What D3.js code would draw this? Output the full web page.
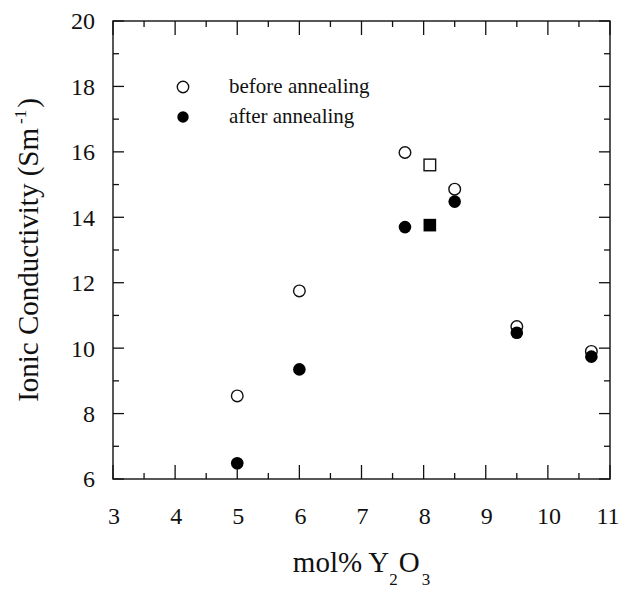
<!DOCTYPE html>
<html>
<head>
<meta charset="utf-8">
<script src="https://cdn.jsdelivr.net/npm/d3@7"></script>
<style>
  body { margin: 0; background: #fff; }
  svg { display: block; font-family: "Liberation Serif", "DejaVu Serif", serif; }
</style>
</head>
<body>
<div id="chart"></div>
<script>
// mol% Y2O3 for each sample
const molPct = [5, 6, 7.7, 8.5, 9.5, 10.7];
// ionic conductivity (S/m), before and after annealing
const beforeAnneal = [8.54, 11.75, 15.98, 14.86, 10.66, 9.9];
const afterAnneal = [6.48, 9.35, 13.7, 14.48, 10.47, 9.74];
// separate sample drawn as squares
const squareX = [8.1];
const squareBefore = [15.6];
const squareAfter = [13.76];

const xTicks = [3, 4, 5, 6, 7, 8, 9, 10, 11];
const yTicks = [6, 8, 10, 12, 14, 16, 18, 20];
const legendLabels = ['before annealing', 'after annealing'];

const config = {
  width: 621,
  height: 591,
  margin: {top: 21, right: 11, bottom: 112, left: 113},
  r: 6.3
};

const innerW = config.width - config.margin.left - config.margin.right;
const innerH = config.height - config.margin.top - config.margin.bottom;

const svg = d3.select('#chart').append('svg')
    .attr('width', config.width)
    .attr('height', config.height);

const chart = svg.append('g')
    .attr('transform', `translate(${config.margin.left},${config.margin.top})`);

const x = d3.scaleLinear().domain([3, 11]).range([0, innerW]);
const y = d3.scaleLinear().domain([6, 20]).range([innerH, 0]);

// frame
chart.append('rect')
    .attr('width', innerW)
    .attr('height', innerH)
    .attr('fill', 'none')
    .attr('stroke', '#111')
    .attr('stroke-width', 1.4);

// inward ticks on all four sides
const xMinor = d3.range(3.5, 11, 1);
const yMinor = d3.range(7, 20, 2);

const tickStyle = sel => sel.attr('stroke', '#111').attr('stroke-width', 1.3);

const addXTicks = (vals, len) => {
  chart.append('g').selectAll('line').data(vals).join('line')
      .attr('x1', d => x(d)).attr('x2', d => x(d))
      .attr('y1', innerH).attr('y2', innerH - len)
      .call(tickStyle);
  chart.append('g').selectAll('line').data(vals).join('line')
      .attr('x1', d => x(d)).attr('x2', d => x(d))
      .attr('y1', 0).attr('y2', len)
      .call(tickStyle);
};
const addYTicks = (vals, len) => {
  chart.append('g').selectAll('line').data(vals).join('line')
      .attr('y1', d => y(d)).attr('y2', d => y(d))
      .attr('x1', 0).attr('x2', len)
      .call(tickStyle);
  chart.append('g').selectAll('line').data(vals).join('line')
      .attr('y1', d => y(d)).attr('y2', d => y(d))
      .attr('x1', innerW).attr('x2', innerW - len)
      .call(tickStyle);
};
addXTicks(xTicks, 14);
addXTicks(xMinor, 6);
addYTicks(yTicks, 11);
addYTicks(yMinor, 6);

// tick labels (last one nudged in so it stays on the page)
chart.append('g').selectAll('text').data(xTicks).join('text')
    .attr('x', d => Math.min(x(d) + 1, innerW - 2))
    .attr('y', innerH + 45)
    .attr('text-anchor', 'middle')
    .attr('font-size', 24)
    .attr('fill', '#111')
    .text(d => d);

chart.append('g').selectAll('text').data(yTicks).join('text')
    .attr('x', -18)
    .attr('y', d => y(d))
    .attr('dy', '0.35em')
    .attr('text-anchor', 'end')
    .attr('font-size', 24)
    .attr('fill', '#111')
    .text(d => d);

// axis titles
const xTitle = svg.append('text')
    .attr('x', config.margin.left + innerW / 2)
    .attr('y', 572)
    .attr('text-anchor', 'middle')
    .attr('font-size', 29)
    .attr('fill', '#111');
xTitle.append('tspan').text('mol% Y');
xTitle.append('tspan').attr('font-size', 17).attr('dy', 13).attr('dx', 0).text('2');
xTitle.append('tspan').attr('dy', -13).attr('dx', 1).text('O');
xTitle.append('tspan').attr('font-size', 17).attr('dy', 13).attr('dx', 2).text('3');

const yTitle = svg.append('text')
    .attr('transform', 'translate(38,250) rotate(-90)')
    .attr('text-anchor', 'middle')
    .attr('font-size', 29)
    .attr('fill', '#111');
yTitle.append('tspan').text('Ionic Conductivity (Sm');
yTitle.append('tspan').attr('font-size', 17).attr('dy', -12).attr('dx', 4).text('-1');
yTitle.append('tspan').attr('dy', 12).attr('dx', 2).text(')');

// data marks: open first, filled on top
chart.append('g').selectAll('circle').data(molPct).join('circle')
    .attr('cx', d => x(d))
    .attr('cy', (d, i) => y(beforeAnneal[i]))
    .attr('r', config.r - 0.5)
    .attr('fill', '#fff')
    .attr('stroke', '#111')
    .attr('stroke-width', 1.4);

const sq = 2 * config.r - 1;
chart.append('g').selectAll('rect').data(squareX).join('rect')
    .attr('x', d => x(d) - sq / 2)
    .attr('y', (d, i) => y(squareBefore[i]) - sq / 2)
    .attr('width', sq).attr('height', sq)
    .attr('fill', '#fff')
    .attr('stroke', '#111')
    .attr('stroke-width', 1.4);

chart.append('g').selectAll('circle').data(molPct).join('circle')
    .attr('cx', d => x(d))
    .attr('cy', (d, i) => y(afterAnneal[i]))
    .attr('r', config.r)
    .attr('fill', '#000');

chart.append('g').selectAll('rect').data(squareX).join('rect')
    .attr('x', d => x(d) - sq / 2 - 0.5)
    .attr('y', (d, i) => y(squareAfter[i]) - sq / 2 - 0.5)
    .attr('width', sq + 1).attr('height', sq + 1)
    .attr('fill', '#000');

// legend
const legend = svg.append('g').attr('transform', 'translate(183,87)');
legend.selectAll('circle').data(legendLabels).join('circle')
    .attr('cx', 0)
    .attr('cy', (d, i) => i * 30)
    .attr('r', 5.7)
    .attr('fill', (d, i) => i === 0 ? '#fff' : '#000')
    .attr('stroke', '#111')
    .attr('stroke-width', (d, i) => i === 0 ? 1.4 : 0);
legend.selectAll('text').data(legendLabels).join('text')
    .attr('x', 46)
    .attr('y', (d, i) => i * 30 + 6)
    .attr('font-size', 21)
    .attr('fill', '#111')
    .text(d => d);
</script>
</body>
</html>
